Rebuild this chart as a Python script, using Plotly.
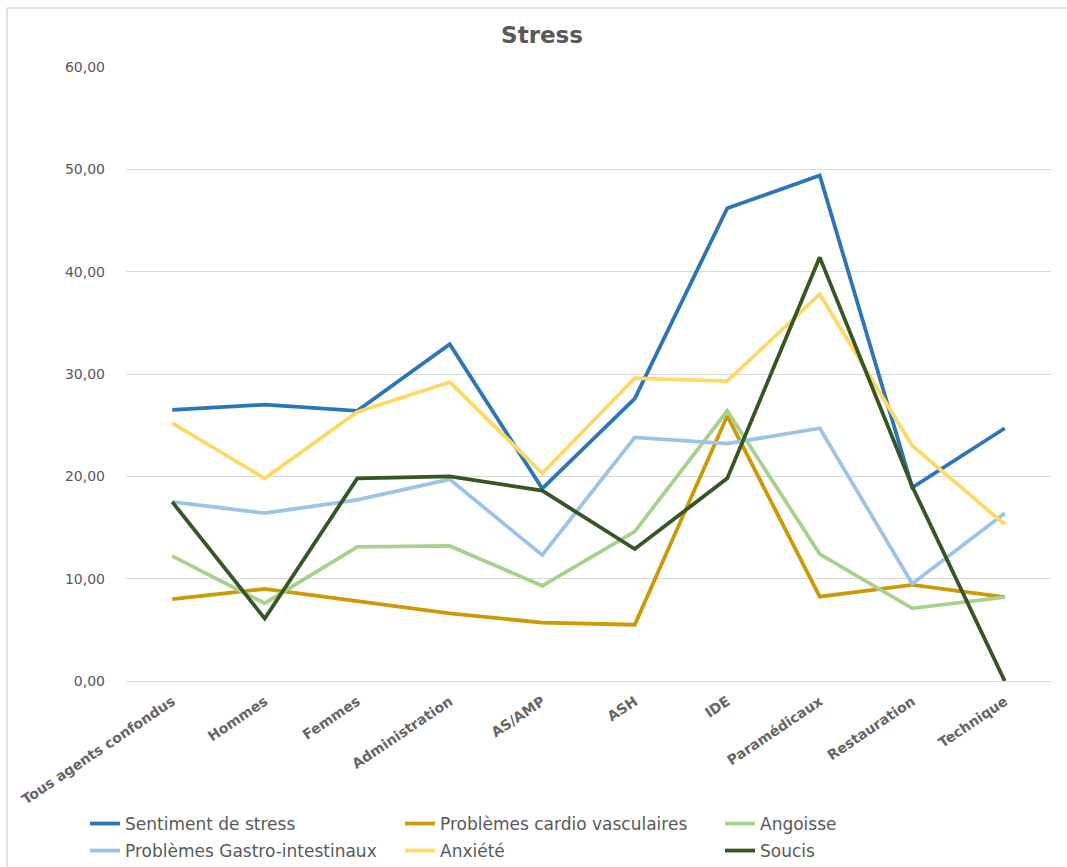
import plotly.graph_objects as go

categories = ["Tous agents confondus", "Hommes", "Femmes", "Administration", "AS/AMP",
              "ASH", "IDE", "Paramédicaux", "Restauration", "Technique"]

sentiment_stress = [26.5, 27.0, 26.4, 32.9, 18.8, 27.6, 46.2, 49.4, 18.9, 24.7]
cardio_vasculaires = [8.0, 9.0, 7.8, 6.6, 5.7, 5.5, 25.9, 8.25, 9.4, 8.2]
angoisse = [12.2, 7.6, 13.1, 13.2, 9.3, 14.6, 26.4, 12.4, 7.1, 8.2]
gastro_intestinaux = [17.5, 16.4, 17.7, 19.7, 12.3, 23.8, 23.2, 24.7, 9.5, 16.4]
anxiete = [25.2, 19.8, 26.3, 29.2, 20.3, 29.6, 29.3, 37.8, 23.0, 15.3]
soucis = [17.5, 6.1, 19.8, 20.0, 18.6, 12.9, 19.8, 41.4, 19.0, 0.0]

y_ticks = [0, 10, 20, 30, 40, 50, 60]

series = [
    ("Sentiment de stress", sentiment_stress, "#2E75B6"),
    ("Problèmes cardio vasculaires", cardio_vasculaires, "#CC9A06"),
    ("Angoisse", angoisse, "#A9D18E"),
    ("Problèmes Gastro-intestinaux", gastro_intestinaux, "#9DC3E6"),
    ("Anxiété", anxiete, "#FFD966"),
    ("Soucis", soucis, "#375623"),
]

FONT = "DejaVu Sans, sans-serif"
GREY = "#595959"
W, H = 1067, 867

# legend grid: 3 columns x 2 rows (text start x, row centre y), one single-entry legend per series
legend_cols = [125, 440, 760]
legend_rows = [824, 851]

fig = go.Figure()
layout_legends = {}
for i, (name, values, color) in enumerate(series):
    key = "legend" if i == 0 else f"legend{i + 1}"
    fig.add_trace(go.Scatter(
        x=categories, y=values, name=name, mode="lines",
        line=dict(color=color, width=3.8), legend=key,
    ))
    layout_legends[key] = dict(
        orientation="h", xref="container", yref="container",
        x=(legend_cols[i % 3] - 40) / W, y=1 - legend_rows[i // 3] / H,
        xanchor="left", yanchor="middle",
        font=dict(size=17, color=GREY, family=FONT),
        bgcolor="rgba(0,0,0,0)", itemwidth=30,
    )

# chart frame: top and left edges only
frame_left = 7 / W
frame_top = 1 - 8 / H
frame = [
    dict(type="line", xref="paper", yref="paper",
         x0=(7 - 126) / 925, x1=(W - 126) / 925,
         y0=1 + (67 - 8) / 614, y1=1 + (67 - 8) / 614,
         line=dict(color="#D9D9D9", width=1.5)),
    dict(type="line", xref="paper", yref="paper",
         x0=(7 - 126) / 925, x1=(7 - 126) / 925,
         y0=1 + (67 - 8) / 614, y1=-(H - 681) / 614,
         line=dict(color="#D9D9D9", width=1.5)),
]

fig.update_layout(
    width=W, height=H,
    margin=dict(l=126, r=16, t=67, b=186, autoexpand=False),
    paper_bgcolor="white", plot_bgcolor="white",
    separators=", ",
    font=dict(family=FONT, color=GREY),
    title=dict(text="<b>Stress</b>", x=0.508, xref="container", xanchor="center",
               y=1 - 35 / H, yref="container", yanchor="middle",
               font=dict(size=23, color=GREY, family=FONT)),
    showlegend=True,
    shapes=frame,
    **layout_legends,
)

fig.update_xaxes(
    type="category", range=[-0.5, len(categories) - 0.5], tickangle=-34, showgrid=False,
    showline=True, linecolor="#D9D9D9", linewidth=1,
    tickvals=categories, ticktext=[f"<b>{c}</b>" for c in categories],
    ticks="", tickfont=dict(size=14, color="#666666", family=FONT),
    ticklabelstandoff=6,
)
fig.update_yaxes(
    range=[0, 60], tickvals=y_ticks, tickformat=".2f",
    showgrid=True, gridcolor="#D9D9D9", gridwidth=1,
    zeroline=True, zerolinecolor="#D9D9D9", zerolinewidth=1,
    showline=False, ticks="",
    tickfont=dict(size=14, color=GREY, family=FONT),
    ticklabelstandoff=20,
)

fig.write_html("out.html")
